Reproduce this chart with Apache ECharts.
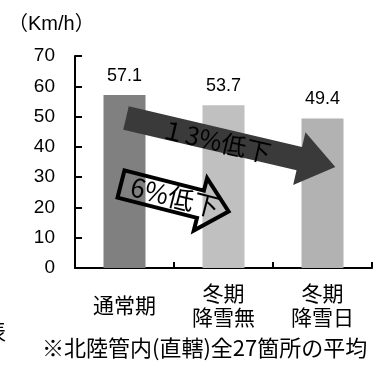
<!DOCTYPE html>
<html>
<head>
<meta charset="utf-8">
<script src="https://cdn.jsdelivr.net/npm/echarts@6/dist/echarts.min.js"></script>
<style>
  html, body { margin: 0; padding: 0; background: #fff; }
  #chart { width: 381px; height: 370px; }
</style>
</head>
<body>
<div id="chart"></div>
<script>
// Average travel speed by season (km/h)
const categories = ['通常期', '冬期\n降雪無', '冬期\n降雪日'];
const speeds = [57.1, 53.7, 49.4];
const barColors = ['#808080', '#c0c0c0', '#b2b2b2'];
const yTicks = { min: 0, max: 70, interval: 10 };
const unitLabel = '（Km/h）';
const noteText = '※北陸管内(直轄)全27箇所の平均';
const bigDropText = '１3%低下';
const smallDropText = '6%低下';

const LATIN = '"Liberation Sans", Arial, "Noto Sans CJK JP", sans-serif';
const CJK = '"Noto Sans CJK JP", "Liberation Sans", sans-serif';

const chart = echarts.init(document.getElementById('chart'), null, { renderer: 'canvas' });

// arrow outline: shaft half-width sw, head starts at hx with half-width hw, tip at len
function arrowPoints(len, hx, sw, hw) {
  return [[0, -sw], [hx, -sw], [hx, -hw], [len, 0], [hx, hw], [hx, sw], [0, sw]];
}

chart.setOption({
  animation: false,
  grid: { left: 75, right: 9, top: 56, bottom: 102 },
  xAxis: {
    type: 'category',
    data: categories,
    axisLine: { lineStyle: { color: '#000', width: 2 } },
    axisTick: { show: true, inside: true, length: 6, lineStyle: { color: '#000', width: 2 } },
    axisLabel: {
      color: '#000', fontSize: 21, fontFamily: CJK,
      verticalAlign: 'middle', margin: 37, lineHeight: 24
    }
  },
  yAxis: {
    type: 'value',
    min: yTicks.min, max: yTicks.max, interval: yTicks.interval,
    splitLine: { show: false },
    axisLine: { show: true, lineStyle: { color: '#000', width: 2 } },
    axisTick: { show: true, inside: true, length: 7, lineStyle: { color: '#000', width: 2 } },
    axisLabel: { color: '#000', fontSize: 19, fontFamily: LATIN, margin: 20 }
  },
  series: [{
    type: 'bar',
    barWidth: 42,
    data: speeds.map((v, i) => ({ value: v, itemStyle: { color: barColors[i] } })),
    label: {
      show: true, position: 'top', distance: 10,
      color: '#000', fontSize: 18, fontFamily: LATIN,
      formatter: p => p.value.toFixed(1)
    }
  }],
  graphic: [
    {
      type: 'text', left: 8, top: 14,
      style: { text: unitLabel, fill: '#000', font: '20px ' + LATIN }
    },
    {
      type: 'text', left: 42, top: 337,
      style: { text: noteText, fill: '#000', font: '22px ' + CJK, letterSpacing: 1.4 }
    },
    {
      type: 'text', x: -15, y: 321,
      style: { text: '表', fill: '#000', font: '21px ' + CJK }
    },
    // dark arrow: 通常期 -> 冬期降雪日
    {
      type: 'polygon', x: 126, y: 118, rotation: -13.2 * Math.PI / 180, z: 10,
      shape: { points: arrowPoints(215, 178, 12, 27) },
      style: { fill: '#3a3a3a', stroke: null }
    },
    {
      type: 'text', x: 216, y: 141, rotation: -13.2 * Math.PI / 180, z: 11,
      style: { text: bigDropText, fill: '#000', font: '25px ' + CJK, letterSpacing: 1, align: 'center', verticalAlign: 'middle' }
    },
    // outlined arrow: 通常期 -> 冬期降雪無
    {
      type: 'polygon', x: 121, y: 184, rotation: -14.3 * Math.PI / 180, z: 10,
      shape: { points: arrowPoints(111, 82, 14, 27) },
      style: { fill: 'none', stroke: '#000', lineWidth: 4, lineJoin: 'miter' }
    },
    {
      type: 'text', x: 175, y: 197, rotation: -14.3 * Math.PI / 180, z: 11,
      style: { text: smallDropText, fill: '#000', font: '26px ' + CJK, letterSpacing: 2, align: 'center', verticalAlign: 'middle' }
    }
  ]
});
</script>
</body>
</html>
